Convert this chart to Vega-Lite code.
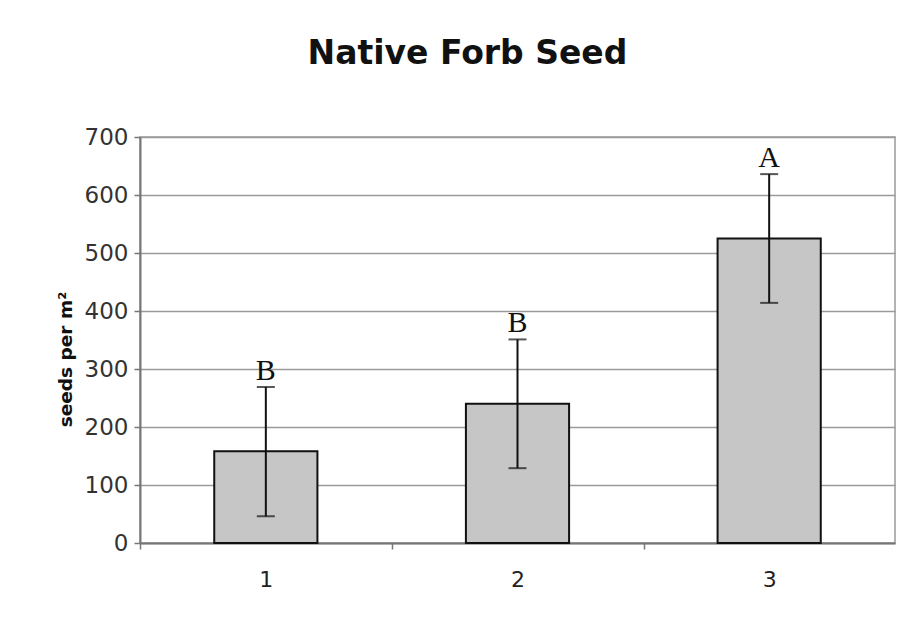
{
  "$schema": "https://vega.github.io/schema/vega-lite/v6.json",
  "width": 755,
  "height": 406,
  "autosize": {"type": "none"},
  "padding": {"left": 140, "top": 137, "right": 10, "bottom": 79},
  "background": "white",
  "title": {"text": "Native Forb Seed", "font": "DejaVu Sans", "fontSize": 33, "fontWeight": "bold", "color": "#111", "anchor": "middle", "dx": -50, "offset": 55},
  "config": {"view": {"stroke": "#9a9a9a", "strokeWidth": 1.5}},
  "data": {"values": [
    {"group": "1", "mean": 158, "lo": 46, "hi": 269, "letter": "B"},
    {"group": "2", "mean": 240, "lo": 129, "hi": 351, "letter": "B"},
    {"group": "3", "mean": 525, "lo": 414, "hi": 636, "letter": "A"}
  ]},
  "encoding": {
    "x": {"field": "group", "type": "nominal", "sort": null,
      "scale": {"paddingInner": 0.59, "paddingOuter": 0.295},
      "axis": {"title": null, "labelAngle": 0, "labelFont": "DejaVu Sans", "labelFontSize": 22, "labelColor": "#222", "labelPadding": 20, "labelOffset": 74, "bandPosition": 0, "tickOffset": -74, "tickColor": "#777", "tickWidth": 1.5, "tickSize": 6, "domainColor": "#777", "domainWidth": 2}}
  },
  "layer": [
    {"mark": {"type": "bar", "fill": "#c6c6c6", "stroke": "#111", "strokeWidth": 2},
     "encoding": {"y": {"field": "mean", "type": "quantitative",
        "scale": {"domain": [0, 700]},
        "axis": {"values": [0,100,200,300,400,500,600,700], "title": "seeds per m²", "titleFont": "DejaVu Sans", "titleFontSize": 18.5, "titleFontWeight": "bold", "titleColor": "#111", "titlePadding": 9, "titleY": 222,
          "labelFont": "DejaVu Sans", "labelFontSize": 23, "labelColor": "#333", "labelPadding": 6,
          "grid": true, "gridColor": "#9a9a9a", "gridWidth": 1.5, "tickColor": "#777", "tickWidth": 1.5, "tickSize": 6, "domainColor": "#777", "domainWidth": 2}}}},
    {"mark": {"type": "rule", "color": "#111", "strokeWidth": 2},
     "encoding": {"y": {"field": "lo", "type": "quantitative"}, "y2": {"field": "hi"}}},
    {"mark": {"type": "tick", "color": "#111", "thickness": 2, "size": 18, "orient": "horizontal"},
     "encoding": {"y": {"field": "lo", "type": "quantitative"}}},
    {"mark": {"type": "tick", "color": "#111", "thickness": 2, "size": 18, "orient": "horizontal"},
     "encoding": {"y": {"field": "hi", "type": "quantitative"}}},
    {"mark": {"type": "text", "font": "Liberation Serif", "fontSize": 30, "color": "#111", "baseline": "alphabetic", "dy": -7},
     "encoding": {"y": {"field": "hi", "type": "quantitative"}, "text": {"field": "letter"}}}
  ]
}
